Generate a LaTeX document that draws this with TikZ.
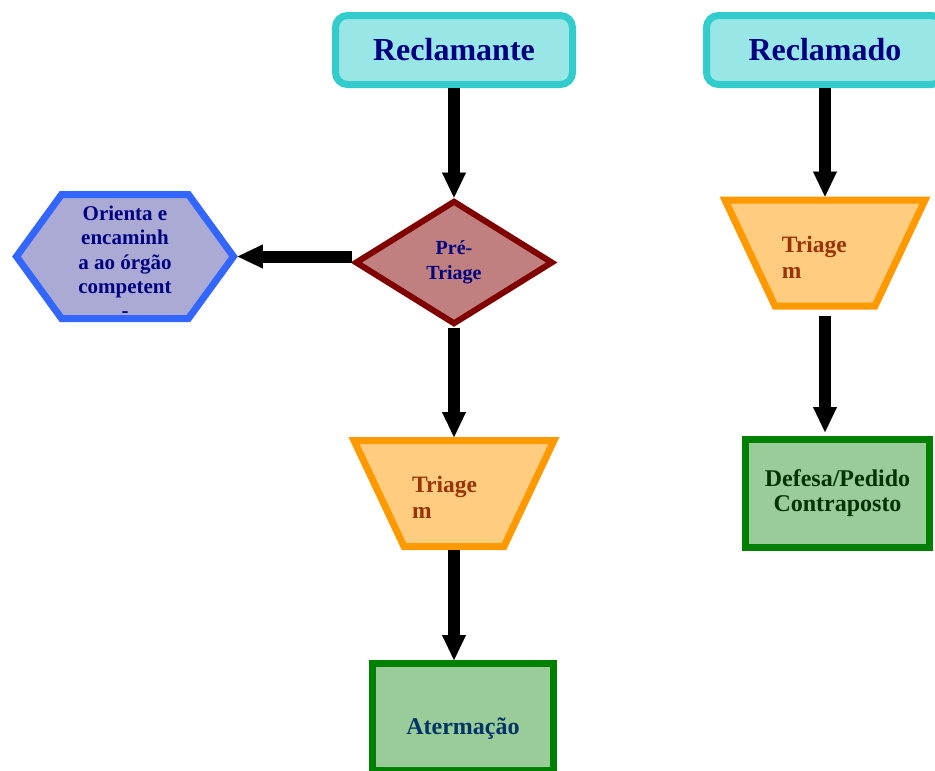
\documentclass[tikz,border=0pt]{standalone}
\usepackage{fontspec}
\setmainfont{Liberation Serif}
\usetikzlibrary{shapes.geometric,shapes.symbols,arrows.meta}
\definecolor{cyanS}{HTML}{33CCCC}
\definecolor{cyanF}{HTML}{99E6E6}
\definecolor{navyT}{HTML}{000080}
\definecolor{redS}{HTML}{800000}
\definecolor{redF}{HTML}{C08080}
\definecolor{blueS}{HTML}{3366FF}
\definecolor{blueF}{HTML}{AAAAD5}
\definecolor{oraS}{HTML}{FF9900}
\definecolor{oraF}{HTML}{FFCC80}
\definecolor{oraT}{HTML}{993300}
\definecolor{grnS}{HTML}{008000}
\definecolor{grnF}{HTML}{99CC99}
\definecolor{aterT}{HTML}{003366}
\definecolor{defT}{HTML}{003300}
\begin{document}
\begin{tikzpicture}[x=1pt,y=-1pt,
  arr/.style={line width=12pt,-{Triangle[width=24pt,length=25pt,line width=0.01pt]}},
  startbox/.style={rectangle,rounded corners=12pt,draw=cyanS,fill=cyanF,line width=7pt,
    minimum width=237pt,minimum height=69pt,inner sep=0pt,text=navyT,
    font=\bfseries\fontsize{32}{38}\selectfont},
  decis/.style={diamond,draw=redS,fill=redF,line width=6pt,minimum width=198pt,
    minimum height=124pt,inner sep=0pt,text=navyT,align=center,
    font=\bfseries\fontsize{20}{25}\selectfont},
  hexa/.style={signal,signal to=west and east,signal pointer angle=108,draw=blueS,fill=blueF,
    line width=7pt,minimum width=217pt,minimum height=124pt,inner sep=2pt},
  hextext/.style={text=navyT,align=center,inner sep=0pt,
    font=\bfseries\fontsize{21}{24.3}\selectfont},
  trapbox/.style={rectangle,draw=none,minimum width=200pt,minimum height=106pt,
    inner sep=0pt,outer sep=0pt},
  trapline/.style={draw=oraS,fill=oraF,line width=7pt,line join=miter},
  traptext/.style={text=oraT,align=left,inner sep=0pt,anchor=west,
    font=\bfseries\fontsize{23.5}{26}\selectfont},
  endbox/.style={rectangle,draw=grnS,fill=grnF,line width=7pt,inner sep=0pt,align=center,
    font=\bfseries\fontsize{24}{25}\selectfont}
]
\useasboundingbox (0,0) rectangle (935,771);

\node[startbox] (rec) at (454,50) {Reclamante};
\node[startbox] (recd) at (825,50) {Reclamado};

\node[decis] (pre) at (454,262.5) {Pré-\\Triage};
\node[hexa] (hex) at (125,256.5) {\strut};
\node[hextext] (hext) at (125,262) {Orienta e\\encaminh\\a ao órgão\\competent\\-};

\node[trapbox] (tri1) at (454,493.5) {};
\path[trapline] (tri1.north west) -- (tri1.north east) -- ([xshift=-50pt]tri1.south east)
  -- ([xshift=50pt]tri1.south west) -- cycle;
\node[traptext] (tri1t) at (412,497.8) {Triage\\m};

\node[trapbox] (tri2) at (825,253) {};
\path[trapline] (tri2.north west) -- (tri2.north east) -- ([xshift=-50pt]tri2.south east)
  -- ([xshift=50pt]tri2.south west) -- cycle;
\node[traptext] (tri2t) at (781.7,257) {Triage\\m};

\node[endbox,minimum width=181pt,minimum height=107pt] (ater) at (463,717) {};
\node[text=aterT,inner sep=0pt,font=\bfseries\fontsize{24}{25}\selectfont] (atert) at (463,729) {Atermação};
\node[endbox,text=defT,minimum width=184pt,minimum height=108pt] (def) at (837.5,493.5) {Defesa/Pedido\\Contraposto};

\draw[arr] (rec.south) -- (pre.north);
\draw[arr] (pre.west |- hex.east) -- (hex.east);
\draw[arr] (pre.south) -- ([yshift=3.5pt]tri1.north);
\draw[arr] ([yshift=-3.5pt]tri1.south) -- (tri1.south |- ater.north);
\draw[arr] (recd.south) -- ([yshift=3.5pt]tri2.north);
\draw[arr,shorten <=6pt,shorten >=4pt] ([yshift=-3.5pt]tri2.south) -- (tri2.south |- def.north);
\end{tikzpicture}
\end{document}
